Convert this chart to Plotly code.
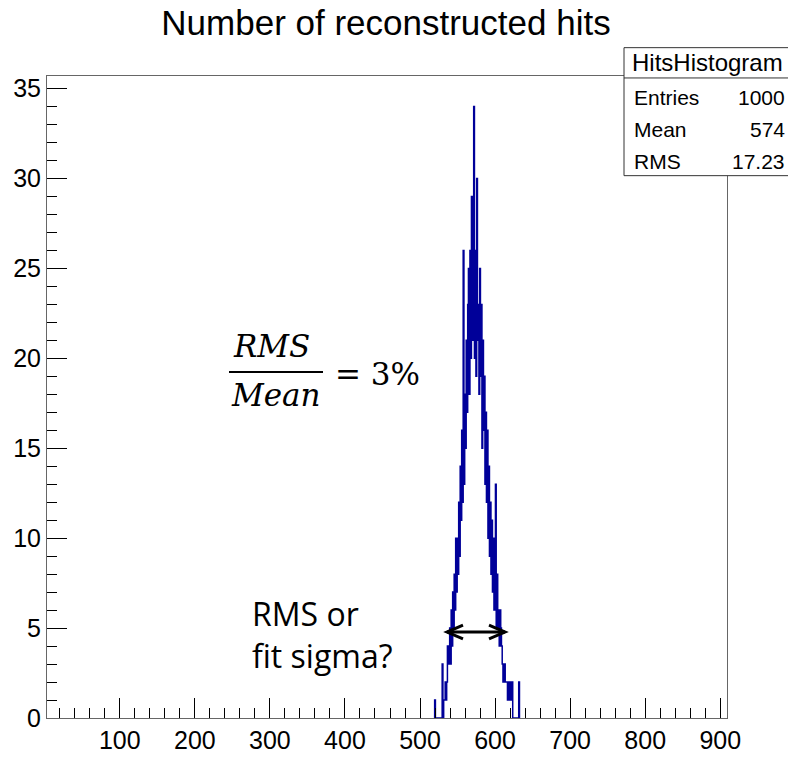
import plotly.graph_objects as go

# ---------------- data ----------------
hit_values = list(range(520, 633))
hit_counts = [
    1, 0, 0, 0, 0, 0, 0, 0, 0, 0,            # 520-529
    3, 0, 1, 1, 2, 1, 2, 4, 3, 4,            # 530-539
    5, 3, 6, 4, 7, 5, 8, 6, 10, 7,           # 540-549
    10, 8, 12, 9, 14, 11, 16, 12, 26, 13,    # 550-559
    18, 15, 21, 17, 23, 25, 18, 26, 20, 29,  # 560-569
    21, 24, 34, 20, 26, 19, 30, 21, 23, 18,  # 570-579
    25, 19, 23, 15, 21, 16, 19, 13, 17, 12,  # 580-589
    16, 10, 14, 9, 12, 8, 11, 7, 10, 6,      # 590-599
    9, 13, 5, 8, 5, 6, 4, 6, 5, 4,           # 600-609
    3, 2, 2, 3, 2, 2, 2, 1, 2, 2,            # 610-619
    1, 2, 1, 2, 0, 0, 0, 0, 0, 0,            # 620-629
    0, 0, 2,                                 # 630-632
]
bin_width = 1.0
x_range = [3, 909]
y_max = max(hit_counts) * 1.05

stats_title = "HitsHistogram"
stats_labels = ["Entries", "Mean", "RMS"]
stats_values = ["1000", "574", "17.23"]

# ---------------- step outline (ROOT-like) ----------------
edges = [v - bin_width / 2 for v in hit_values]
xs = [edges[0]] + edges + [hit_values[-1] + bin_width / 2]
ys = [0] + hit_counts + [0]

fig = go.Figure()
fig.add_trace(go.Scatter(x=xs, y=ys, mode="lines", line_shape="hv",
                         line=dict(color="#000099", width=1.5),
                         hoverinfo="skip", showlegend=False))

W, H = 788, 766
L, R, T, B = 47, 61, 76, 33
PW, PH = W - L - R, H - T - B


def px_x(p):
    return (p - L) / PW


def px_y(p):
    return (H - B - p) / PH


FONT = "Liberation Sans, Arial, Helvetica, sans-serif"
axis_common = dict(showline=True, linecolor="#666", linewidth=1, mirror=True,
                   ticks="inside", ticklen=20, tickwidth=1, tickcolor="black",
                   showgrid=False, zeroline=False, layer="above traces",
                   tickfont=dict(family=FONT, size=25, color="black"))

fig.update_xaxes(range=x_range, tick0=0, dtick=100,
                 minor=dict(ticks="inside", ticklen=10, dtick=20, tick0=0,
                            tickcolor="black", showgrid=False),
                 **axis_common)
fig.update_yaxes(range=[0, y_max], tick0=0, dtick=5,
                 minor=dict(ticks="inside", ticklen=10, dtick=1, tick0=0,
                            tickcolor="black", showgrid=False),
                 **axis_common)

shapes = []
annotations = []

# stats box
shapes.append(dict(type="rect", xref="paper", yref="paper",
                   x0=px_x(624), x1=px_x(792), y0=px_y(178), y1=px_y(47),
                   line=dict(color="#333", width=1), fillcolor="white", layer="above"))
shapes.append(dict(type="line", xref="paper", yref="paper",
                   x0=px_x(624), x1=px_x(792), y0=px_y(78), y1=px_y(78),
                   line=dict(color="#333", width=1), layer="above"))
annotations.append(dict(text=stats_title, xref="paper", yref="paper",
                        x=px_x(707), y=px_y(62), showarrow=False,
                        xanchor="center", yanchor="middle",
                        font=dict(family=FONT, size=24, color="black")))
for i, (lab, val) in enumerate(zip(stats_labels, stats_values)):
    yy = px_y(98 + i * 33)
    annotations.append(dict(text=lab, xref="paper", yref="paper", x=px_x(632), y=yy,
                            showarrow=False, xanchor="left", yanchor="middle",
                            font=dict(family=FONT, size=21, color="black")))
    annotations.append(dict(text=val, xref="paper", yref="paper", x=px_x(787), y=yy,
                            showarrow=False, xanchor="right", yanchor="middle",
                            font=dict(family=FONT, size=21, color="black")))

# formula RMS / Mean = 3%
SERIF = "DejaVu Serif, Liberation Serif, serif"
annotations.append(dict(text="<i>RMS</i>", xref="paper", yref="paper",
                        x=px_x(271), y=px_y(352), showarrow=False,
                        xanchor="center", yanchor="middle",
                        font=dict(family=SERIF, size=31, color="black")))
annotations.append(dict(text="<i>Mean</i>", xref="paper", yref="paper",
                        x=px_x(276), y=px_y(402), showarrow=False,
                        xanchor="center", yanchor="middle",
                        font=dict(family=SERIF, size=31, color="black")))
shapes.append(dict(type="line", xref="paper", yref="paper",
                   x0=px_x(229), x1=px_x(323), y0=px_y(379), y1=px_y(379),
                   line=dict(color="black", width=2)))
annotations.append(dict(text="= 3%", xref="paper", yref="paper",
                        x=px_x(333), y=px_y(381), showarrow=False,
                        xanchor="left", yanchor="middle",
                        font=dict(family=SERIF, size=31, color="black")))

# RMS or fit sigma?
annotations.append(dict(text="RMS or<br>fit sigma?", xref="paper", yref="paper",
                        x=px_x(250), y=px_y(648), showarrow=False,
                        xanchor="left", yanchor="middle", align="left",
                        font=dict(family="Open Sans, sans-serif", size=32, color="black")))

# double arrow
ax0, ax1, ay = 447, 505, 645
shapes.append(dict(type="line", xref="paper", yref="paper",
                   x0=px_x(ax0), x1=px_x(ax1), y0=px_y(ay), y1=px_y(ay),
                   line=dict(color="black", width=3)))
for tip, d in ((ax0, 1), (ax1, -1)):
    shapes.append(dict(type="path", xref="paper", yref="paper",
                       path=f"M {px_x(tip + d*16)},{px_y(ay-7)} L {px_x(tip)},{px_y(ay)} L {px_x(tip + d*16)},{px_y(ay+7)}",
                       line=dict(color="black", width=3)))

fig.update_layout(
    width=W, height=H,
    margin=dict(l=L, r=R, t=T, b=B),
    paper_bgcolor="white", plot_bgcolor="white",
    title=dict(text="Number of reconstructed hits", x=386 / W, xanchor="center",
               y=1 - 23 / H, yanchor="middle", yref="container",
               font=dict(family=FONT, size=35, color="black")),
    shapes=shapes, annotations=annotations,
)

fig.write_html("out.html")
